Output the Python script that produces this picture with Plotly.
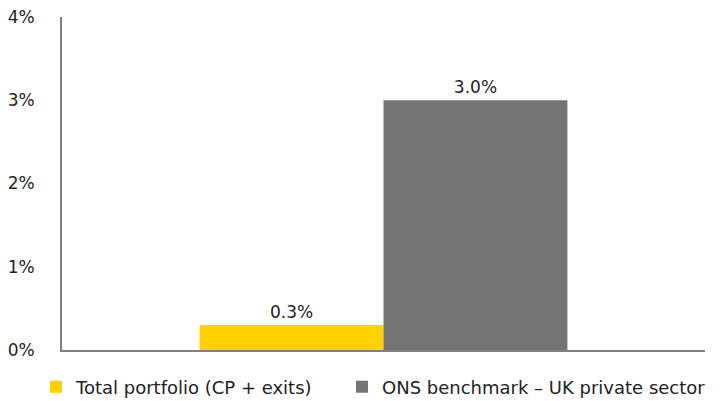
import plotly.graph_objects as go

category = ["Change"]
series_names = ["Total portfolio (CP + exits)", "ONS benchmark \u2013 UK private sector"]
series_values = [0.3, 3.0]
series_colors = ["#FFD200", "#747474"]
y_ticks = [0, 1, 2, 3, 4]
y_tick_labels = ["0%", "1%", "2%", "3%", "4%"]

# page body adds an 8px margin, so the figure is 8px smaller than the window
W, H = 716, 393
legend_x = [28, 334]  # left edge of each legend entry, px

fig = go.Figure()
for i, (name, val, col) in enumerate(zip(series_names, series_values, series_colors)):
    fig.add_trace(go.Bar(
        x=category,
        y=[val],
        name=name,
        legend="legend" if i == 0 else "legend2",
        marker=dict(color=col, line=dict(width=0)),
        texttemplate="%{y:.1f}%",
        textposition="outside",
        textfont=dict(size=17, color="#222222"),
        cliponaxis=False,
    ))

legend_style = dict(
    orientation="h",
    xref="container",
    yref="container",
    y=(H - 379) / H,
    xanchor="left",
    yanchor="middle",
    font=dict(size=18, color="#222222"),
    itemclick=False,
    bgcolor="rgba(0,0,0,0)",
)

fig.update_layout(
    width=W,
    height=H,
    margin=dict(l=54, r=19, t=9, b=51, autoexpand=False),
    paper_bgcolor="white",
    plot_bgcolor="white",
    font=dict(family="DejaVu Sans, sans-serif", size=17, color="#222222"),
    barmode="group",
    bargap=0.428,
    bargroupgap=0,
    showlegend=True,
    legend=dict(x=legend_x[0] / W, **legend_style),
    legend2=dict(x=legend_x[1] / W, **legend_style),
    xaxis=dict(
        showticklabels=False,
        showline=True,
        linecolor="#808080",
        linewidth=2,
        showgrid=False,
        zeroline=False,
        ticks="",
    ),
    yaxis=dict(
        range=[0, 4],
        tickmode="array",
        tickvals=y_ticks,
        ticktext=y_tick_labels,
        ticklabeloverflow="allow",
        showline=True,
        linecolor="#808080",
        linewidth=2,
        showgrid=False,
        zeroline=False,
        ticks="outside",
        ticklen=22,
        tickcolor="rgba(0,0,0,0)",
        tickfont=dict(size=17),
    ),
)

fig.write_html("out.html")
